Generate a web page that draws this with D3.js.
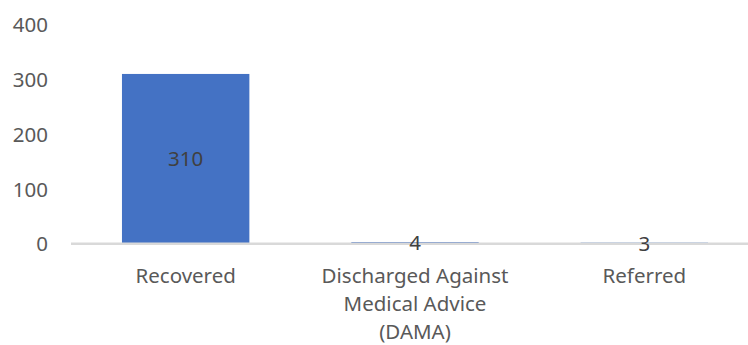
<!DOCTYPE html>
<html>
<head>
<meta charset="utf-8">
<script src="https://cdn.jsdelivr.net/npm/d3@7"></script>
<style>
  body { margin: 0; background: #fff; }
  svg { display: block; font-family: "Noto Sans", "Open Sans", sans-serif; }
</style>
</head>
<body>
<div id="chart"></div>
<script>
// values
var categories = ["Recovered", "Discharged Against Medical Advice (DAMA)", "Referred"];
var counts = [310, 4, 3];
var yTicks = [0, 100, 200, 300, 400];

var width = 748, height = 345;
var fontSize = 20.5;

var svg = d3.select("#chart")
  .append("svg")
    .attr("width", width)
    .attr("height", height);

// X axis - band scale, gap width like excel (80%)
var x = d3.scaleBand()
  .domain(categories)
  .range([71, 759])
  .paddingInner(0.8 / 1.8)
  .paddingOuter(0.4 / 1.8);

// Y axis
var y = d3.scaleLinear()
  .domain([0, 400])
  .range([244.3, 24.5]);

var data = categories.map(function(c, i) { return {cat: c, value: counts[i]}; });

// Bars
svg.selectAll("rect.bar")
  .data(data)
  .enter()
  .append("rect")
    .attr("class", "bar")
    .attr("x", function(d) { return x(d.cat); })
    .attr("y", function(d) { return y(d.value); })
    .attr("width", x.bandwidth())
    .attr("height", function(d) { return y(0) - y(d.value); })
    .attr("fill", "#4472c4");

// baseline, drawn over the bar bottoms
var xAxis = svg.append("g")
  .attr("transform", "translate(0," + (y(0) - 0.6) + ")")
  .call(d3.axisBottom(x).tickSize(0).tickFormat(""));
xAxis.select(".domain")
  .attr("stroke", "#d9d9d9")
  .attr("stroke-width", 2.6)
  .attr("d", "M71,0H" + width);

// y tick labels, no axis line
var yAxis = svg.append("g")
  .attr("transform", "translate(48,0)")
  .call(d3.axisLeft(y).tickValues(yTicks).tickSize(0).tickPadding(0));
yAxis.select(".domain").remove();
yAxis.selectAll("text")
  .attr("fill", "#595959")
  .style("font-size", fontSize + "px")
  .style("font-family", "'Noto Sans', sans-serif")
  .attr("dy", "0.35em")
  .attr("y", -0.5);

// category labels, wrapped
var labels = svg.append("g")
  .selectAll("text")
  .data(categories)
  .enter()
  .append("text")
    .attr("x", function(d) { return x(d) + x.bandwidth() / 2; })
    .attr("y", 275.5)
    .attr("text-anchor", "middle")
    .attr("fill", "#595959")
    .style("font-size", fontSize + "px")
    .text(function(d) { return d; })
    .each(wrap);

function wrap() {
  var text = d3.select(this);
  var words = text.text().split(/\s+/);
  var maxW = x.step() * 0.9;
  var cx = text.attr("x");
  text.text(null);
  var line = [];
  var tspan = text.append("tspan").attr("x", cx).attr("dy", "0.35em");
  words.forEach(function(w) {
    line.push(w);
    tspan.text(line.join(" "));
    if (tspan.node().getComputedTextLength() > maxW && line.length > 1) {
      line.pop();
      tspan.text(line.join(" "));
      line = [w];
      tspan = text.append("tspan").attr("x", cx).attr("dy", "28px").text(w);
    }
  });
}

// data labels at bar centre
svg.selectAll("text.value")
  .data(data)
  .enter()
  .append("text")
    .attr("class", "value")
    .attr("x", function(d) { return x(d.cat) + x.bandwidth() / 2; })
    .attr("y", function(d) { return (y(d.value) + y(0)) / 2; })
    .attr("dy", "0.35em")
    .attr("text-anchor", "middle")
    .attr("fill", "#404040")
    .style("font-size", fontSize + "px")
    .text(function(d) { return d.value; });
</script>
</body>
</html>
